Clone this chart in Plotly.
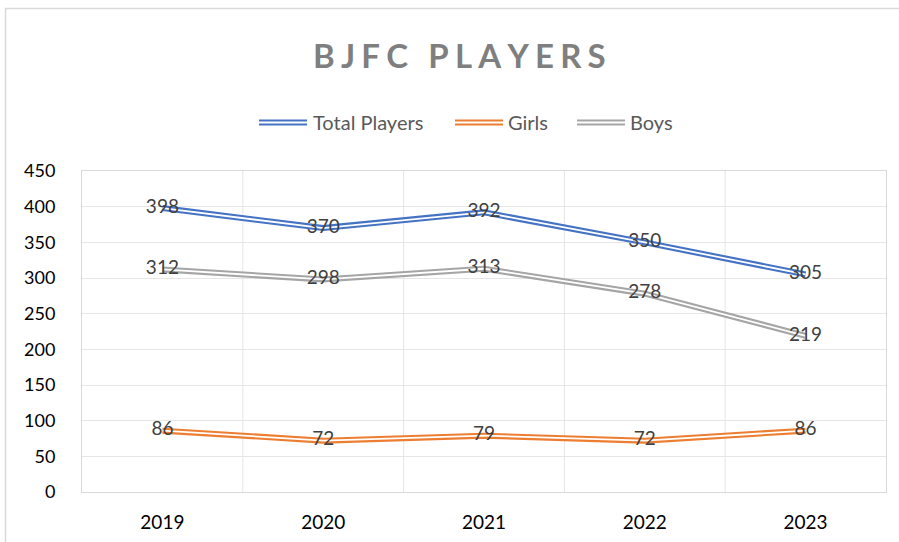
import plotly.graph_objects as go

years = ["2019", "2020", "2021", "2022", "2023"]
total_players = [398, 370, 392, 350, 305]
girls = [86, 72, 79, 72, 86]
boys = [312, 298, 313, 278, 219]
y_ticks = [0, 50, 100, 150, 200, 250, 300, 350, 400, 450]

series = [
    ("Total Players", total_players, "#4472C4"),
    ("Girls", girls, "#ED7D31"),
    ("Boys", boys, "#A5A5A5"),
]

FONT = "Lato, Open Sans, sans-serif"
fig = go.Figure()
x_idx = list(range(len(years)))

for name, vals, col in series:
    fig.add_trace(go.Scatter(x=x_idx, y=vals, mode="lines", line=dict(color=col, width=6),
                             showlegend=False, hoverinfo="skip"))
    fig.add_trace(go.Scatter(x=x_idx, y=vals, mode="lines", line=dict(color="white", width=1.8),
                             showlegend=False, hoverinfo="skip"))
for name, vals, col in series:
    fig.add_trace(go.Scatter(x=x_idx, y=vals, mode="text", text=[str(v) for v in vals],
                             textposition="middle center",
                             textfont=dict(family=FONT, size=19, color="#404040"),
                             showlegend=False, name=name))

shapes = []
# vertical gridlines between categories
for i in range(len(years) - 1):
    shapes.append(dict(type="line", xref="x", yref="y", x0=i + 0.5, x1=i + 0.5, y0=0, y1=450,
                       line=dict(color="#e6e6e6", width=1), layer="below"))

W, H = 899, 542
l, r, t, b = 82, 13, 171, 50
pw, ph = W - l - r, H - t - b
def px(xp): return (xp - l) / pw
def py(yp): return (H - b - yp) / ph

# outer chart border
shapes.append(dict(type="rect", xref="paper", yref="paper", x0=px(5.5), x1=px(910), y0=py(560), y1=py(8.5),
                   line=dict(color="#d9d9d9", width=1.5), layer="below"))

legend_items = [("Total Players", "#4472C4", 259, 311), ("Girls", "#ED7D31", 455, 506), ("Boys", "#A5A5A5", 577, 628)]
annotations = []
for name, col, x0, tx in legend_items:
    shapes.append(dict(type="line", xref="paper", yref="paper", x0=px(x0), x1=px(x0 + 48),
                       y0=py(122.5), y1=py(122.5), line=dict(color=col, width=6)))
    shapes.append(dict(type="line", xref="paper", yref="paper", x0=px(x0) - 0.001, x1=px(x0 + 48) + 0.001,
                       y0=py(122.5), y1=py(122.5), line=dict(color="white", width=1.8)))
    annotations.append(dict(xref="paper", yref="paper", x=px(tx), y=py(122), text=name, showarrow=False,
                            xanchor="left", yanchor="middle",
                            font=dict(family=FONT, size=20, color="#595959")))

annotations.append(dict(xref="paper", yref="paper", x=px(459), y=py(55),
                        text="<b>" + "\u2009\u200a".join("BJFC PLAYERS") + "</b>",
                        showarrow=False, xanchor="center", yanchor="middle",
                        font=dict(family=FONT, size=33, color="#7f7f7f")))

fig.update_layout(
    width=W, height=H,
    margin=dict(l=l, r=r, t=t, b=b, autoexpand=False),
    paper_bgcolor="white", plot_bgcolor="white",
    shapes=shapes, annotations=annotations,
    showlegend=False,
    xaxis=dict(range=[-0.5, 4.5], tickvals=x_idx, ticktext=years, showgrid=False, zeroline=False,
               showline=True, mirror=True, linecolor="#d9d9d9", linewidth=1, ticks="", automargin=False,
               tickfont=dict(family=FONT, size=19, color="#000000"), ticklabelstandoff=13),
    yaxis=dict(range=[0, 450], tickvals=y_ticks, showgrid=True, gridcolor="#e6e6e6", gridwidth=1,
               zeroline=False, showline=True, mirror=True, linecolor="#d9d9d9", linewidth=1, ticks="",
               automargin=False,
               tickfont=dict(family=FONT, size=18, color="#000000"), ticklabelstandoff=22),
)

fig.write_html("out.html", config={"displayModeBar": False},
               post_script="document.body.style.margin='0';document.body.style.overflow='hidden';")
